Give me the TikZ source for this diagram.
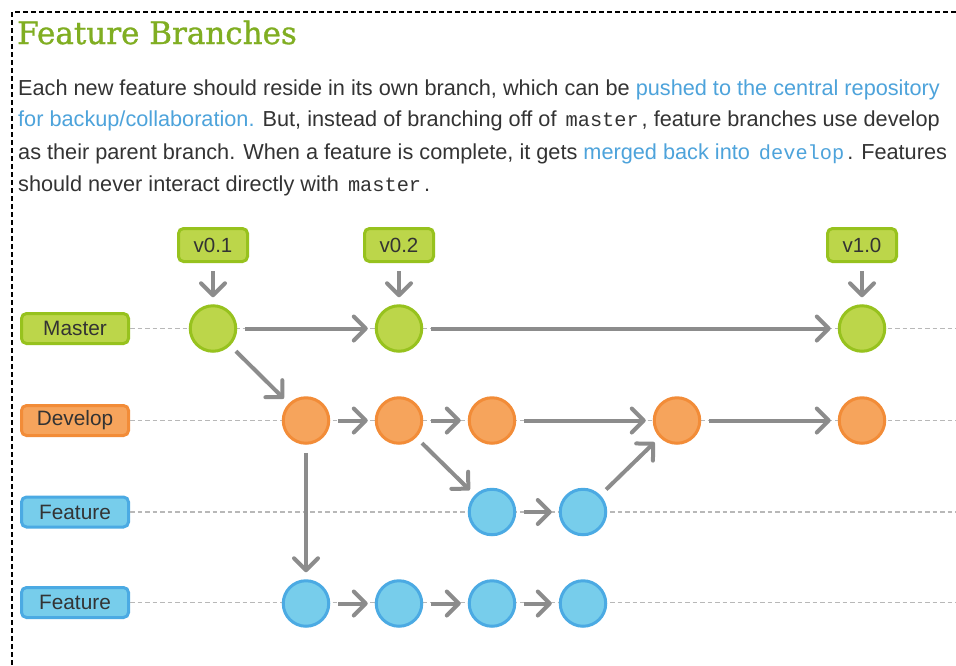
\documentclass[tikz,border=0pt]{standalone}
\usepackage{fontspec}
\setmainfont{Liberation Sans}
\setmonofont{Liberation Mono}
\newfontfamily\titlefont[FakeBold=1]{DejaVu Serif}
\usetikzlibrary{arrows.meta}
\definecolor{txt}{HTML}{333333}
\definecolor{lnk}{HTML}{4DA3DB}
\definecolor{ttl}{HTML}{80AE22}
\definecolor{gfill}{HTML}{BCD64A}
\definecolor{gline}{HTML}{97C21E}
\definecolor{ofill}{HTML}{F6A45C}
\definecolor{oline}{HTML}{F28C38}
\definecolor{bfill}{HTML}{77CDEB}
\definecolor{bline}{HTML}{4BAAE3}
\definecolor{arr}{HTML}{8C8C8C}
\definecolor{dashc}{HTML}{B8B8B8}
\newcommand{\code}[1]{\hspace{3pt}{\ttfamily\fontsize{20.3}{24}\selectfont #1}\hspace{3pt}}
\begin{document}
\begin{tikzpicture}[x=1pt,y=-1pt,
  commit/.style={circle, minimum size=45.5pt, inner sep=0pt, line width=3pt},
  gc/.style={commit, fill=gfill, draw=gline},
  oc/.style={commit, fill=ofill, draw=oline},
  bc/.style={commit, fill=bfill, draw=bline},
  lbl/.style={rounded corners=5pt, minimum width=107pt, minimum height=30pt, line width=3pt, inner sep=0pt, text=txt, font=\fontsize{20.8}{24}\selectfont},
  tagbox/.style={rounded corners=5pt, minimum width=69pt, minimum height=33pt, line width=3pt, inner sep=0pt, text=txt, font=\fontsize{20.5}{24}\selectfont, fill=gfill, draw=gline},
  flow/.style={draw=arr, line width=4pt, -{Straight Barb[length=12pt,width=24pt,round]}, shorten <=8pt, shorten >=7pt},
  row/.style={draw=dashc, line width=1.2pt, dash pattern=on 4.5pt off 3pt},
  body/.style={anchor=base west, inner sep=0pt, text=txt, font=\fontsize{21.7}{24}\selectfont}
]
\useasboundingbox (0,0) rectangle (956,665);
\fill[white] (0,0) rectangle (956,665);
\draw[black, line width=1.3pt, dash pattern=on 5pt off 3pt] (12,665) -- (12,12) -- (956,12);

\node[anchor=base west, inner sep=0pt, text=ttl, font=\titlefont\fontsize{31}{34}\selectfont] (title) at (17,44) {Feature Branches};

\node[body] (t1) at (18,95) {Each new feature should reside in its own branch, which can be \textcolor{lnk}{pushed to the central repository}};
\node[body] (t2) at (18,126) {\textcolor{lnk}{for backup/collaboration.} But, instead of branching off of \code{master}, feature branches use develop};
\node[body] (t3) at (18,159) {as their parent branch. When a feature is complete, it gets \textcolor{lnk}{merged back into \code{develop}}. Features};
\node[body] (t4) at (18,191) {should never interact directly with \code{master}.};

% branch labels
\node[lbl, fill=gfill, draw=gline] (lm) at (75,328.5) {Master};
\node[lbl, fill=ofill, draw=oline] (ld) at (75,420.5) {Develop};
\node[lbl, fill=bfill, draw=bline] (lf1) at (75,512) {Feature};
\node[lbl, fill=bfill, draw=bline] (lf2) at (75,602.5) {Feature};

\coordinate (em) at (956,328.5);
\coordinate (ed) at (956,420.5);
\coordinate (ef1) at (956,512);
\coordinate (ef2) at (956,602.5);
\draw[row] (lm.east) -- (em);
\draw[row] (ld.east) -- (ed);
\draw[row] (lf1.east) -- (ef1);
\draw[row] (lf2.east) -- (ef2);

% commits
\node[gc] (m1) at (213,328.5) {};
\node[gc] (m2) at (399,328.5) {};
\node[gc] (m3) at (862,328.5) {};
\node[oc] (d1) at (306,420.5) {};
\node[oc] (d2) at (399,420.5) {};
\node[oc] (d3) at (492,420.5) {};
\node[oc] (d4) at (677,420.5) {};
\node[oc] (d5) at (862,420.5) {};
\node[bc] (f1) at (492,512) {};
\node[bc] (f2) at (583,512) {};
\node[bc] (g1) at (306,603.5) {};
\node[bc] (g2) at (399,603.5) {};
\node[bc] (g3) at (492,603.5) {};
\node[bc] (g4) at (583,603.5) {};

% tags
\node[tagbox] (v1) at (213,245) {v0.1};
\node[tagbox] (v2) at (399,245) {v0.2};
\node[tagbox] (v3) at (862,245) {v1.0};

\draw[flow] (v1) -- (m1);
\draw[flow] (v2) -- (m2);
\draw[flow] (v3) -- (m3);

\draw[flow] (m1) -- (m2);
\draw[flow] (m2) -- (m3);
\draw[flow] (m1) -- (d1);
\draw[flow] (d1) -- (d2);
\draw[flow] (d2) -- (d3);
\draw[flow] (d3) -- (d4);
\draw[flow] (d4) -- (d5);
\draw[flow] (d2) -- (f1);
\draw[flow] (f1) -- (f2);
\draw[flow] (f2) -- (d4);
\draw[flow] (d1) -- (g1);
\draw[flow] (g1) -- (g2);
\draw[flow] (g2) -- (g3);
\draw[flow] (g3) -- (g4);
\end{tikzpicture}
\end{document}
